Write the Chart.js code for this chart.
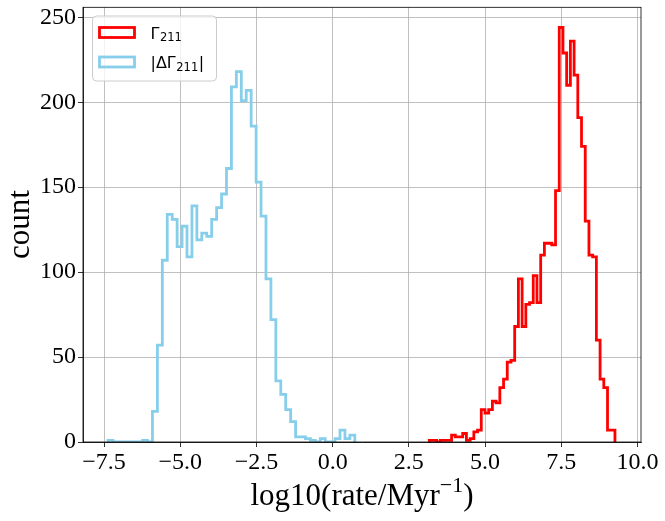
<!DOCTYPE html>
<html>
<head>
<meta charset="utf-8">
<script src="https://cdn.jsdelivr.net/npm/chart.js@4.4.0/dist/chart.umd.min.js"></script>
<style>
  html, body { margin:0; padding:0; background:#fff; }
  #wrap { width:665px; height:521px; }
</style>
</head>
<body>
<div id="wrap"><canvas id="histChart" width="665" height="521"></canvas></div>
<script>
// ===== Data =====
// bin range (log10 rate) and counts for each of the 50 bins
const gammaRange = [3.17, 9.26];
const gammaCounts = [1, 1, 0, 1, 1, 1, 4, 3, 3, 5,
  1, 2, 6, 7, 19, 17, 19, 24, 23, 32,
  37, 47, 48, 68, 96, 68, 81, 82, 98, 82,
  110, 117, 117, 116, 148, 244, 229, 210, 236, 216,
  191, 174, 130, 110, 109, 60, 37, 32, 7, 7];

const deltaRange = [-7.369, 0.727];
const deltaCounts = [1, 0, 0, 0, 0, 0, 0, 1, 0, 18,
  57, 107, 134, 131, 115, 127, 109, 139, 119, 123,
  121, 131, 138, 146, 161, 209, 218, 201, 207, 186,
  153, 133, 96, 72, 36, 28, 19, 12, 3, 3,
  2, 1, 0, 2, 0, 0, 2, 7, 2, 4];

const xTicks = [-7.5, -5.0, -2.5, 0.0, 2.5, 5.0, 7.5, 10.0];
const yTicks = [0, 50, 100, 150, 200, 250];

// text pieces: [main, raised/lowered part, suffix]
const gammaLabel = ['Γ', '211', ''];
const deltaLabel = ['|ΔΓ', '211', '|'];
const xTitle = ['log10(rate/Myr', '\u22121', ')'];

// ===== Helpers =====
// outline of a step histogram: up from the first edge, across the bins, down at the last edge
function stepPoints(range, counts){
  const w = (range[1] - range[0]) / counts.length;
  const pts = [{ x: range[0], y: 0 }];
  counts.forEach((c, i) => pts.push({ x: range[0] + i * w, y: c }));
  pts.push({ x: range[1], y: 0 });
  return pts;
}

const tickFont = { family: 'Liberation Serif', size: 24 };
const titleFont = { family: 'Liberation Serif', size: 31 };

// black frame on all four sides
const framePlugin = {
  id: 'frame',
  afterDatasetsDraw(chart){
    const a = chart.chartArea, ctx = chart.ctx;
    ctx.save();
    ctx.strokeStyle = '#000';
    ctx.lineWidth = 0.8;
    ctx.strokeRect(a.left, a.top, a.right - a.left, a.bottom - a.top);
    ctx.restore();
  }
};

// x axis title with a real superscript
const xTitlePlugin = {
  id: 'xTitle',
  afterDraw(chart){
    const a = chart.chartArea, ctx = chart.ctx;
    const [main, sup, tail] = xTitle;
    ctx.save();
    ctx.fillStyle = '#000';
    ctx.textBaseline = 'alphabetic';
    ctx.font = '31px "Liberation Serif"';
    const wMain = ctx.measureText(main).width, wTail = ctx.measureText(tail).width;
    ctx.font = '22px "Liberation Serif"';
    const wSup = ctx.measureText(sup).width;
    let x = (a.left + a.right) / 2 - (wMain + wSup + wTail) / 2;
    const base = 505;
    ctx.font = '31px "Liberation Serif"';
    ctx.fillText(main, x, base);
    x += wMain;
    ctx.font = '22px "Liberation Serif"';
    ctx.fillText(sup, x, base - 13);
    x += wSup;
    ctx.font = '31px "Liberation Serif"';
    ctx.fillText(tail, x, base);
    ctx.restore();
  }
};

// matplotlib-like legend in the upper left corner
const legendPlugin = {
  id: 'mplLegend',
  afterDatasetsDraw(chart){
    const a = chart.chartArea, ctx = chart.ctx;
    const bx = a.left + 9.5, by = a.top + 8.7, bw = 124, bh = 65, r = 4;
    ctx.save();
    ctx.beginPath();
    ctx.moveTo(bx + r, by);
    ctx.arcTo(bx + bw, by, bx + bw, by + bh, r);
    ctx.arcTo(bx + bw, by + bh, bx, by + bh, r);
    ctx.arcTo(bx, by + bh, bx, by, r);
    ctx.arcTo(bx, by, bx + bw, by, r);
    ctx.closePath();
    ctx.fillStyle = 'rgba(255,255,255,0.8)';
    ctx.fill();
    ctx.strokeStyle = '#cccccc';
    ctx.lineWidth = 1;
    ctx.stroke();

    const labels = [gammaLabel, deltaLabel];
    chart.data.datasets.forEach((ds, i) => {
      const base = by + 22.5 + i * 29.5;
      ctx.strokeStyle = ds.borderColor;
      ctx.lineWidth = 2.8;
      ctx.strokeRect(bx + 7, base - 11, 35, 10);
      let tx = bx + 58;
      const [main, sub, tail] = labels[i];
      ctx.fillStyle = '#000';
      ctx.textBaseline = 'alphabetic';
      ctx.font = '16px "DejaVu Sans"';
      ctx.fillText(main, tx, base);
      tx += ctx.measureText(main).width + 0.5;
      ctx.font = '11.5px "DejaVu Sans"';
      ctx.fillText(sub, tx, base + 2.5);
      tx += ctx.measureText(sub).width + 0.5;
      ctx.font = '16px "DejaVu Sans"';
      ctx.fillText(tail, tx, base);
    });
    ctx.restore();
  }
};

// ===== Chart =====
const ctx = document.getElementById('histChart').getContext('2d');
new Chart(ctx, {
  type: 'line',
  data: {
    datasets: [
      { label: 'Γ211', data: stepPoints(gammaRange, gammaCounts), borderColor: '#ff0000' },
      { label: '|ΔΓ211|', data: stepPoints(deltaRange, deltaCounts), borderColor: '#87ceeb' }
    ].map(d => Object.assign(d, {
      backgroundColor: 'transparent', borderWidth: 2.8, stepped: 'before',
      pointRadius: 0, fill: false, borderJoinStyle: 'miter'
    }))
  },
  options: {
    responsive: false,
    animation: false,
    devicePixelRatio: 1,
    layout: { padding: { top: 7.3, right: 24, left: 0, bottom: 0 } },
    plugins: { legend: { display: false }, tooltip: { enabled: false } },
    scales: {
      x: {
        type: 'linear', min: -8.19, max: 10.115,
        afterBuildTicks: s => { s.ticks = xTicks.map(v => ({ value: v })); },
        afterFit: s => { s.height = 79; s.paddingLeft = 0; s.paddingRight = 0; },
        ticks: {
          font: tickFont, color: '#000', padding: 1, maxRotation: 0, autoSkip: false,
          callback: v => v.toFixed(1).replace('-', '\u2212')
        },
        grid: { color: '#b0b0b0', lineWidth: 0.8, tickColor: '#000', tickLength: 5, tickWidth: 0.8 },
        border: { color: '#000', width: 0.8 }
      },
      y: {
        type: 'linear', min: 0, max: 255.9,
        afterBuildTicks: s => { s.ticks = yTicks.map(v => ({ value: v })); },
        afterFit: s => { s.width = 83; s.paddingTop = 0; s.paddingBottom = 0; },
        ticks: { font: tickFont, color: '#000', padding: 2 },
        grid: { color: '#b0b0b0', lineWidth: 0.8, tickColor: '#000', tickLength: 5, tickWidth: 0.8 },
        border: { color: '#000', width: 0.8 },
        title: { display: true, text: 'count', font: titleFont, color: '#000', padding: { top: 2, bottom: 2 } }
      }
    }
  },
  plugins: [framePlugin, legendPlugin, xTitlePlugin]
});
</script>
</body>
</html>
